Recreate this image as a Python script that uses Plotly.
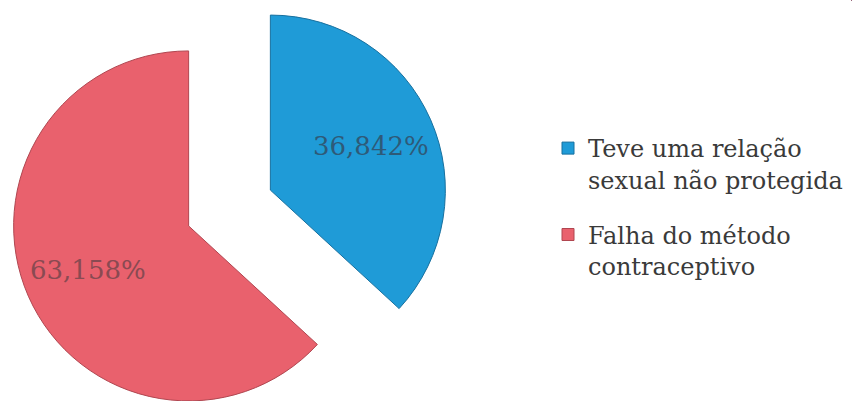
import math
import plotly.graph_objects as go

# ---- data ----
labels = ["Teve uma relação<br>sexual não protegida", "Falha do método<br>contraceptivo"]
values = [36.842, 63.158]
slice_colors = ["#1f9bd7", "#e9616d"]
edge_colors = ["#17709f", "#b04650"]
text_colors = ["#2e5a78", "#8a4a52"]

# ---- geometry (pixels) ----
W, H = 852, 401
CX, CY = 229.5, 208.0   # pie centre before explosion
R = 175.0               # radius
PULL = 0.255            # explosion as fraction of radius
LABEL_R = 0.63          # label distance from slice apex, fraction of radius

fig = go.Figure()
total = sum(values)
start = 0.0
annotations = []
for i, v in enumerate(values):
    frac = v / total
    mid = (start + frac / 2) * 2 * math.pi  # clockwise from 12 o'clock
    start += frac
    cx = CX + PULL * R * math.sin(mid)
    cy = CY - PULL * R * math.cos(mid)
    dom_x = [(cx - R) / W, (cx + R) / W]
    dom_y = [max(0, (H - (cy + R)) / H), min(1, (H - (cy - R)) / H)]
    colors = ["rgba(0,0,0,0)"] * len(values)
    colors[i] = slice_colors[i]
    lines = ["rgba(0,0,0,0)"] * len(values)
    lines[i] = edge_colors[i]
    fig.add_trace(go.Pie(
        labels=labels, values=values, sort=False, direction="clockwise",
        rotation=0, domain=dict(x=dom_x, y=dom_y),
        marker=dict(colors=colors, line=dict(color=lines, width=1)),
        textinfo="none", showlegend=False, hoverinfo="skip",
    ))
    lx = cx + LABEL_R * R * math.sin(mid)
    ly = cy - LABEL_R * R * math.cos(mid)
    annotations.append(dict(
        x=lx / W, y=(H - ly) / H, xref="paper", yref="paper",
        text=f"{v:.3f}".replace(".", ",") + "%", showarrow=False,
        font=dict(family="DejaVu Serif", size=26, color=text_colors[i]),
        xanchor="center", yanchor="middle",
    ))

# legend carriers (one per category so a gap can separate items)
for i in range(len(values)):
    fig.add_trace(go.Pie(
        labels=[labels[i]], values=[values[i]], sort=False,
        domain=dict(x=[0.9995, 1], y=[0.999, 1]),
        marker=dict(colors=[slice_colors[i]], line=dict(color=edge_colors[i], width=1)),
        textinfo="none", hoverinfo="skip", legendgroup="g%d" % i,
        showlegend=True,
    ))

fig.update_layout(
    width=W, height=H, margin=dict(l=0, r=0, t=0, b=0),
    paper_bgcolor="white", plot_bgcolor="white",
    annotations=annotations,
    legend=dict(
        x=548 / W, y=(H - 126) / H, xanchor="left", yanchor="top",
        font=dict(family="DejaVu Serif", size=24, color="#3a3a3a"),
        valign="top", tracegroupgap=21, bgcolor="rgba(0,0,0,0)",
    ),
)

fig.write_html("out.html", config={"displayModeBar": False},
               post_script="document.body.style.margin='0';")
